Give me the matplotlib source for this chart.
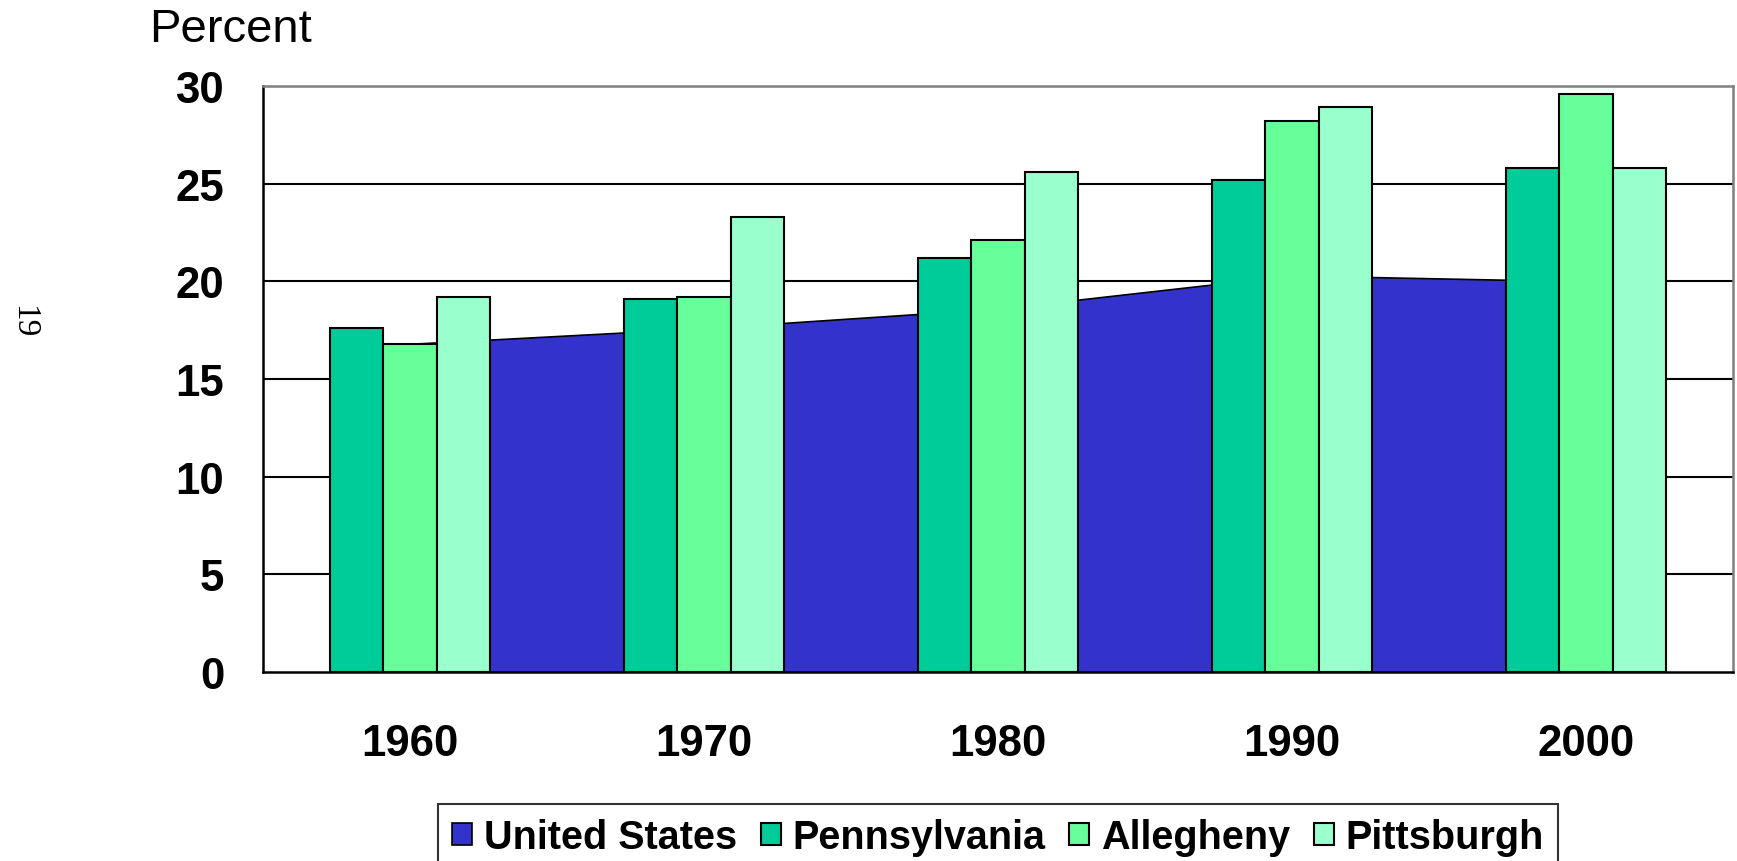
import numpy as np
import matplotlib
matplotlib.use('Agg')
import matplotlib.pyplot as plt

plt.rcParams['font.family'] = ['Liberation Sans', 'DejaVu Sans']

# data
years = ['1960', '1970', '1980', '1990', '2000']
us = [16.8, 17.6, 18.6, 20.3, 20.0]
penn = [17.6, 19.1, 21.2, 25.2, 25.8]
allegheny = [16.8, 19.2, 22.1, 28.2, 29.6]
pittsburgh = [19.2, 23.3, 25.6, 28.9, 25.8]
yticks = [0, 5, 10, 15, 20, 25, 30]

c_us = '#3333CC'
c_penn = '#00CC99'
c_alle = '#66FF99'
c_pitt = '#99FFCC'

W, H, DPI = 1737, 862, 100
fig = plt.figure(figsize=(W / DPI, H / DPI), dpi=DPI)
ax = fig.add_axes([263 / W, 1 - 673 / H, (1733 - 263) / W, (673 - 87) / H])

x = np.arange(len(years))
bw = 0.181

# gridlines behind everything
for v in yticks[1:-1]:
    ax.axhline(v, color='black', lw=1.5, zorder=0.5)

ax.fill_between(x, 0, us, color=c_us, edgecolor='black', lw=1.2, zorder=1,
                label='United States')
ax.bar(x - bw, penn, bw, color=c_penn, edgecolor='black', lw=1.5, zorder=2,
       label='Pennsylvania')
ax.bar(x, allegheny, bw, color=c_alle, edgecolor='black', lw=1.5, zorder=2,
       label='Allegheny')
ax.bar(x + bw, pittsburgh, bw, color=c_pitt, edgecolor='black', lw=1.5,
       zorder=2, label='Pittsburgh')

ax.set_xlim(-0.5, len(years) - 0.5)
ax.set_ylim(0, 30)
ax.set_yticks(yticks)
ax.set_yticklabels([str(v) for v in yticks], fontsize=31.5, fontweight='bold')
ax.set_xticks(x)
ax.set_xticklabels(years, fontsize=31.5, fontweight='bold')
ax.tick_params(axis='y', length=0, pad=28)
ax.tick_params(axis='x', length=0, pad=37)

for s in ['left', 'bottom']:
    ax.spines[s].set_color('black')
    ax.spines[s].set_linewidth(1.8)
for s in ['top', 'right']:
    ax.spines[s].set_color('#808080')
    ax.spines[s].set_linewidth(1.8)

fig.text(149 / W, 1 - 42 / H, 'Percent', fontsize=34, ha='left',
         va='baseline')
fig.text(23 / W, 1 - 322 / H, '19', rotation=-90, fontsize=24,
         family='Liberation Serif', ha='center', va='center')

h, l = ax.get_legend_handles_labels()
leg = fig.legend(h, l, loc='upper center', bbox_to_anchor=(998 / W, 1 - 805 / H),
                 ncol=4, frameon=True, fancybox=False,
                 prop={'weight': 'bold', 'size': 28.5},
                 handlelength=0.5, handleheight=0.5, handletextpad=0.3,
                 columnspacing=0.6, borderpad=0.35, borderaxespad=0)
leg.get_frame().set_edgecolor('black')
leg.get_frame().set_linewidth(1.5)

fig.savefig('out.png', dpi=DPI)
